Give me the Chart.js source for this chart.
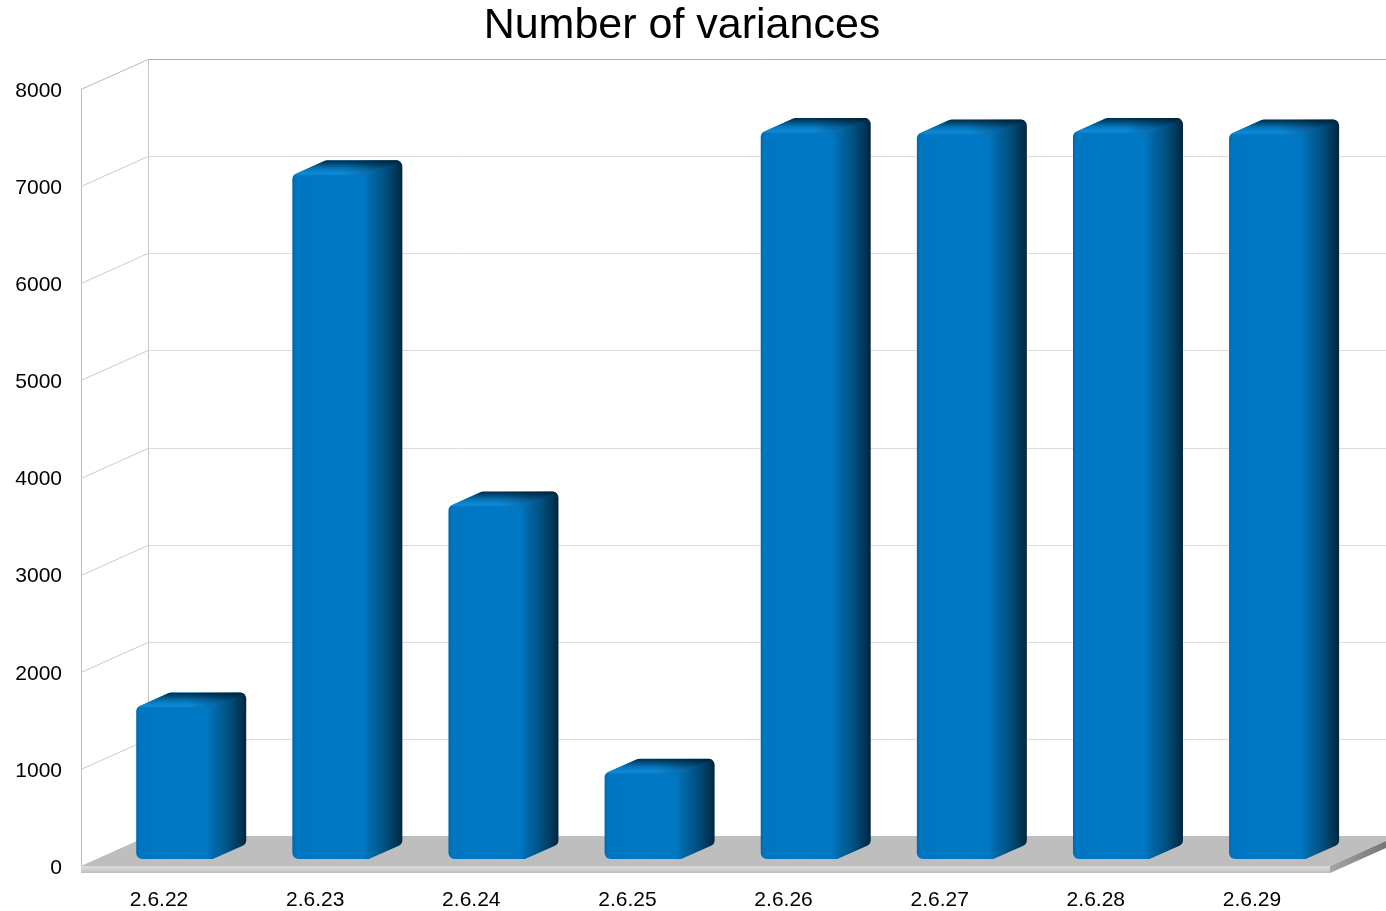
<!DOCTYPE html>
<html>
<head>
<meta charset="utf-8">
<title>Number of variances</title>
<script src="https://cdn.jsdelivr.net/npm/chart.js@4.4.1/dist/chart.umd.min.js"></script>
<style>
  html, body { margin: 0; padding: 0; background: #ffffff; }
  #wrap { width: 1386px; height: 911px; }
</style>
</head>
<body>
<div id="wrap"><canvas id="chart" width="1386" height="911"></canvas></div>
<script>
// Kernel releases and the number of variances found in each
const releases = ['2.6.22', '2.6.23', '2.6.24', '2.6.25', '2.6.26', '2.6.27', '2.6.28', '2.6.29'];
const variances = [1560, 7040, 3630, 880, 7475, 7460, 7475, 7460];
const yTickValues = [0, 1000, 2000, 3000, 4000, 5000, 6000, 7000, 8000];

const FONT = "'Liberation Sans', Arial, Helvetica, sans-serif";

// Perspective of the box: full depth of the walls/floor, and where the bars sit inside it
const DEPTH_X = 67, DEPTH_Y = -30;
const BAR_FRONT = 0.23;  // bar front face, as a fraction of the depth
const BAR_DEPTH = 0.5;   // bar thickness, as a fraction of the depth
const FLOOR_THICK = 7;
const TITLE_LEFT = 34;   // title is centred between this and the plot's right edge

function line(ctx, x1, y1, x2, y2, color) {
  ctx.strokeStyle = color;
  ctx.lineWidth = 1;
  ctx.beginPath();
  ctx.moveTo(x1, y1);
  ctx.lineTo(x2, y2);
  ctx.stroke();
}

function poly(ctx, pts) {
  ctx.beginPath();
  ctx.moveTo(pts[0][0], pts[0][1]);
  for (let i = 1; i < pts.length; i++) ctx.lineTo(pts[i][0], pts[i][1]);
  ctx.closePath();
}

function roundedPoly(ctx, pts, r) {
  const n = pts.length;
  const a = pts[n - 1], b = pts[0];
  ctx.beginPath();
  ctx.moveTo((a[0] + b[0]) / 2, (a[1] + b[1]) / 2);
  for (let i = 0; i < n; i++) {
    const p = pts[i], q = pts[(i + 1) % n];
    ctx.arcTo(p[0], p[1], q[0], q[1], r);
  }
  ctx.closePath();
}

function drawBox(ctx, x0, x1, yTop, yBase) {
  const bx = DEPTH_X * BAR_DEPTH, by = DEPTH_Y * BAR_DEPTH;
  const outline = [
    [x0, yBase], [x0, yTop], [x0 + bx, yTop + by],
    [x1 + bx, yTop + by], [x1 + bx, yBase + by], [x1, yBase]
  ];
  ctx.save();
  roundedPoly(ctx, outline, 6);
  ctx.clip();

  // front + side faces: one horizontal sweep from lit front to shaded side
  const W = x1 + bx - x0;
  const p = (x1 - x0) / W;
  const g = ctx.createLinearGradient(x0, 0, x1 + bx, 0);
  g.addColorStop(0, '#0066aa');
  g.addColorStop(0.03, '#0076c1');
  g.addColorStop(p * 0.5, '#0079c6');
  g.addColorStop(p - 0.04, '#0077c2');
  g.addColorStop(p, '#006cae');
  g.addColorStop(p + (1 - p) * 0.5, '#00507f');
  g.addColorStop(1, '#00263f');
  ctx.fillStyle = g;
  ctx.fillRect(x0 - 2, yTop + by - 2, W + 4, yBase - yTop - by + 4);

  // top face: bright front lip fading to a dark back edge
  const top = [[x0, yTop], [x1, yTop], [x1 + bx, yTop + by], [x0 + bx, yTop + by]];
  const gt = ctx.createLinearGradient(0, yTop, 0, yTop + by);
  gt.addColorStop(0, '#0a80cc');
  gt.addColorStop(0.15, '#0c8ad8');
  gt.addColorStop(0.45, '#0674b8');
  gt.addColorStop(0.8, '#004772');
  gt.addColorStop(1, '#002a46');
  ctx.fillStyle = gt;
  poly(ctx, top);
  ctx.fill();
  const gs = ctx.createLinearGradient(x1 - 25, 0, x1 + bx, 0);
  gs.addColorStop(0, 'rgba(0,20,40,0)');
  gs.addColorStop(1, 'rgba(0,20,40,0.55)');
  ctx.fillStyle = gs;
  poly(ctx, top);
  ctx.fill();
  ctx.restore();
}

const box3d = {
  id: 'box3d',
  afterLayout(chart) {
    if (chart.titleBlock) chart.titleBlock.left = TITLE_LEFT;
  },
  beforeDatasetsDraw(chart) {
    const ctx = chart.ctx;
    const { left, right, top, bottom } = chart.chartArea;
    const ys = chart.scales.y;
    ctx.save();

    // back wall and side wall gridlines
    ys.ticks.forEach(t => {
      if (t.value === 0) return;
      const py = Math.round(ys.getPixelForValue(t.value)) + 0.5;
      const isTop = t.value === ys.max;
      line(ctx, left + DEPTH_X, py + DEPTH_Y, right + DEPTH_X, py + DEPTH_Y, isTop ? '#b2b2b2' : '#dcdcdc');
      line(ctx, left, py, left + DEPTH_X, py + DEPTH_Y, isTop ? '#b8b8b8' : '#cacaca');
    });
    line(ctx, left + 0.5, top, left + 0.5, bottom, '#bdbdbd');
    line(ctx, left + DEPTH_X + 0.5, top + DEPTH_Y, left + DEPTH_X + 0.5, bottom + DEPTH_Y, '#c6c6c6');

    // floor slab
    const y0 = ys.getPixelForValue(0);
    ctx.fillStyle = '#bebebe';
    poly(ctx, [[left, y0], [right, y0], [right + DEPTH_X, y0 + DEPTH_Y], [left + DEPTH_X, y0 + DEPTH_Y]]);
    ctx.fill();
    const gf = ctx.createLinearGradient(0, y0, 0, y0 + FLOOR_THICK);
    gf.addColorStop(0, '#dadada');
    gf.addColorStop(0.45, '#d2d2d2');
    gf.addColorStop(1, '#bdbdbd');
    ctx.fillStyle = gf;
    ctx.fillRect(left, y0, right - left, FLOOR_THICK);
    const gside = ctx.createLinearGradient(right, 0, right + DEPTH_X, 0);
    gside.addColorStop(0, '#a6a6a6');
    gside.addColorStop(1, '#6c6c6c');
    ctx.fillStyle = gside;
    poly(ctx, [[right, y0], [right + DEPTH_X, y0 + DEPTH_Y], [right + DEPTH_X, y0 + DEPTH_Y + FLOOR_THICK], [right, y0 + FLOOR_THICK]]);
    ctx.fill();
    ctx.restore();
  },
  afterDatasetsDraw(chart) {
    const ctx = chart.ctx;
    const sx = DEPTH_X * BAR_FRONT, sy = DEPTH_Y * BAR_FRONT;
    const meta = chart.getDatasetMeta(0);
    meta.data.forEach(el => {
      const { x, y, base, width } = el.getProps(['x', 'y', 'base', 'width'], true);
      drawBox(ctx, x - width / 2 + sx, x + width / 2 + sx, y + sy, base + sy);
    });
  }
};

new Chart(document.getElementById('chart'), {
  type: 'bar',
  data: {
    labels: releases,
    datasets: [{
      label: 'Number of variances',
      data: variances,
      backgroundColor: 'rgba(0,0,0,0)',
      borderWidth: 0,
      categoryPercentage: 1,
      barPercentage: 0.49
    }]
  },
  options: {
    responsive: false,
    animation: false,
    devicePixelRatio: 1,
    layout: { padding: { left: 0, right: 56, top: 0, bottom: 0 } },
    plugins: {
      legend: { display: false },
      tooltip: { enabled: false },
      title: {
        display: true,
        text: 'Number of variances',
        color: '#000000',
        font: { family: FONT, size: 43, weight: 'normal', lineHeight: 1 },
        padding: { top: 5, bottom: 41 }
      }
    },
    scales: {
      x: {
        grid: { display: false, drawTicks: false },
        border: { display: false },
        ticks: { color: '#000000', font: { family: FONT, size: 21 }, padding: 22, maxRotation: 0 },
        afterFit: s => { s.height = 45; }
      },
      y: {
        min: 0,
        max: 8000,
        afterBuildTicks: s => { s.ticks = yTickValues.map(v => ({ value: v })); },
        grid: { display: false, drawTicks: false },
        border: { display: false },
        ticks: {
          color: '#000000',
          font: { family: FONT, size: 21 },
          padding: 19,
          labelOffset: 2,
          callback: v => String(v)
        },
        afterFit: s => { s.width = 81; }
      }
    }
  },
  plugins: [box3d]
});
</script>
</body>
</html>
